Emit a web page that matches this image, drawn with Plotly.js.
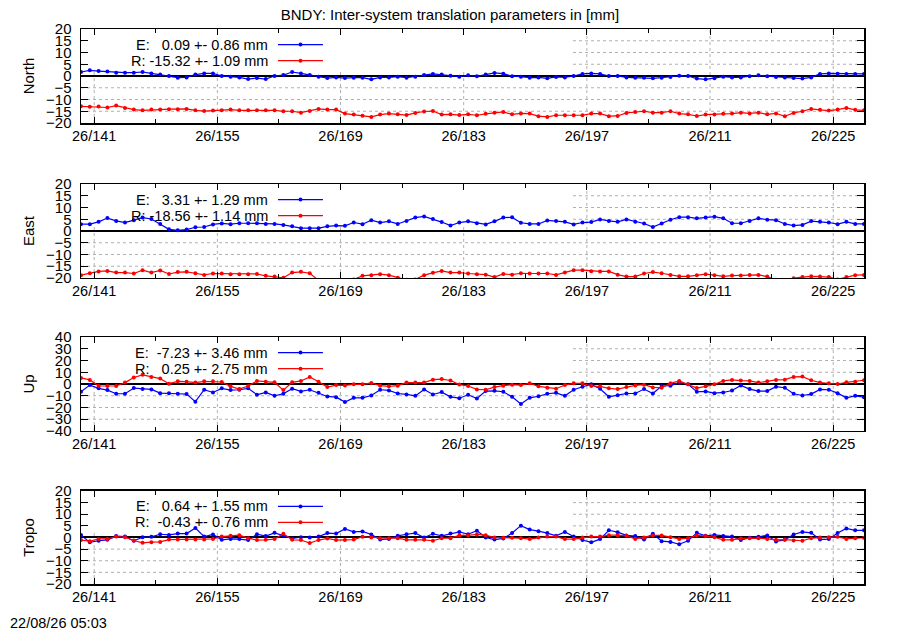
<!DOCTYPE html>
<html><head><meta charset="utf-8">
<script src="https://cdn.plot.ly/plotly-3.0.1.min.js"></script>
<style>html,body{margin:0;padding:0;background:#fff}#chart{width:900px;height:630px}</style>
</head><body><div id="chart"></div>
<script>
// ---- data ----
const firstEpoch = 139.5;          // first daily solution (day of year, noon)
const tickDays = [141, 155, 169, 183, 197, 211, 225];
const tickLabels = ["26/141", "26/155", "26/169", "26/183", "26/197", "26/211", "26/225"];
const panelNames = ["North", "East", "Up", "Tropo"];
const yLimits = [20, 20, 40, 20];
const yTickStep = [5, 5, 10, 5];
const chartTitle = "BNDY: Inter-system translation parameters in [mm]";
const timeStamp = "22/08/26 05:03";

const legendE = ["E:   0.09 +- 0.86 mm", "E:   3.31 +- 1.29 mm", "E:  -7.23 +- 3.46 mm", "E:   0.64 +- 1.55 mm"];
const legendR = ["R: -15.32 +- 1.09 mm", "R: -18.56 +- 1.14 mm", "R:   0.25 +- 2.75 mm", "R:  -0.43 +- 0.76 mm"];

const northE = [1.7,2.4,2.1,1.9,1.4,1.4,1.4,1.7,1.1,0.6,
 0,-0.7,-0.6,0.6,1.1,1.1,0,-0.3,-0.6,-1.3,
 -0.9,-1.3,0,0.4,1.7,1.1,0.4,-0.3,-0.9,-0.6,
 -0.9,-0.7,-0.7,-1.4,-0.6,-0.6,-0.3,-0.7,-0.3,0.4,
 0.9,0.6,0.1,-0.3,0.3,-0.1,0.6,1.3,1.0,-0.1,
 -0.3,-0.7,-0.6,-1.0,-0.4,-0.6,0,0.9,1.1,0.9,
 0,0,-0.6,-0.7,-0.7,-1.0,-0.7,-0.4,0.1,0,
 -1.1,-1.4,-1.0,-0.3,-0.6,-0.6,-0.1,0.3,-0.1,-0.4,
 -0.6,-0.9,-1.1,-0.6,0.9,1.1,1.0,0.9,0.9,0.9];
const northR = [-12.9,-13.1,-13.0,-13.4,-12.6,-13.6,-14.3,-14.6,-14.3,-14.3,
 -14.1,-14.1,-14.0,-14.6,-14.9,-14.7,-14.6,-14.3,-14.6,-14.6,
 -14.6,-14.6,-14.6,-15.0,-15.0,-15.6,-14.9,-14.0,-14.3,-14.3,
 -16.0,-16.4,-16.9,-17.4,-16.4,-16.0,-16.3,-16.6,-15.7,-15.1,
 -14.9,-16.4,-16.3,-16.6,-16.3,-16.7,-16.1,-15.6,-15.3,-16.3,
 -15.9,-16.0,-17.1,-17.4,-16.7,-16.7,-16.7,-16.7,-16.0,-16.0,
 -17.1,-17.0,-15.7,-15.3,-15.0,-15.6,-15.6,-15.0,-16.0,-16.3,
 -17.0,-16.4,-16.4,-16.1,-16.0,-15.6,-15.9,-15.6,-16.3,-15.9,
 -17.1,-15.7,-15.0,-14.0,-14.4,-14.7,-14.3,-13.6,-14.4,-14.6];
const eastE = [2.9,2.9,3.9,5.5,4.3,3.6,4.6,5.7,5.1,3.0,
 0.7,0.3,0.6,1.6,1.7,2.8,3.2,2.9,3.3,3.3,
 3.3,3.0,3.0,2.6,2.0,1.2,1.2,1.2,2.0,2.3,
 2.2,3.6,2.9,4.6,3.6,4.1,3.0,4.3,5.7,6.2,
 5.1,3.8,2.3,3.6,4.1,3.3,2.8,4.1,5.7,5.8,
 3.5,3.0,3.0,4.5,4.2,3.9,2.8,3.6,3.8,4.9,
 4.3,3.9,4.9,3.9,3.2,1.7,3.2,4.8,5.9,5.9,
 5.4,5.7,6.1,5.4,3.3,3.3,4.2,5.4,4.8,4.6,
 3.0,2.3,2.6,4.2,3.9,3.6,2.9,3.9,3.0,3.0];
const eastR = [-18.8,-18.0,-17.2,-17.0,-17.7,-17.7,-18.1,-16.7,-17.7,-16.8,
 -18.3,-17.5,-17.4,-18.0,-18.7,-18.1,-18.1,-18.4,-18.4,-18.4,
 -18.3,-19.1,-19.4,-19.9,-17.7,-17.4,-18.0,-21.0,-21.5,-22.0,
 -21.5,-20.6,-19.1,-18.8,-18.4,-18.8,-19.9,-20.8,-20.6,-18.8,
 -17.8,-17.0,-17.7,-17.7,-18.1,-18.4,-18.6,-19.6,-18.3,-18.6,
 -18.0,-18.1,-18.1,-18.1,-18.7,-17.7,-16.7,-16.7,-17.1,-17.2,
 -17.2,-18.6,-19.4,-19.4,-18.1,-17.5,-18.0,-18.7,-19.3,-19.3,
 -18.8,-18.4,-18.8,-19.3,-19.0,-19.0,-18.7,-18.7,-19.4,-20.8,
 -21.0,-20.1,-19.6,-19.3,-19.4,-19.6,-20.6,-19.6,-18.8,-18.7];
const upE = [-6.6,-0.9,-3.7,-5.2,-8.3,-8.3,-3.5,-4.3,-4.6,-7.8,
 -7.8,-8.3,-8.6,-15.0,-4.9,-7.2,-3.7,-5.2,-4.9,-3.7,
 -9.2,-7.2,-10.1,-8.3,-4.0,-6.3,-4.9,-7.5,-10.6,-11.2,
 -15.3,-11.8,-11.8,-9.8,-4.9,-5.5,-8.1,-8.9,-10.1,-4.6,
 -8.9,-6.9,-10.9,-12.1,-9.2,-12.4,-6.0,-5.8,-6.6,-10.9,
 -17.0,-11.8,-10.4,-8.3,-7.5,-10.1,-4.9,-2.3,-0.3,-4.0,
 -10.9,-9.5,-8.1,-8.1,-4.3,-8.1,-1.7,-1.4,1.2,-0.3,
 -6.6,-6.3,-7.8,-7.2,-5.5,-1.2,-4.3,-6.0,-6.0,-2.3,
 -3.2,-8.3,-9.8,-8.6,-4.6,-4.9,-7.8,-11.8,-10.1,-11.2];
const upR = [5.2,3.5,-1.7,-1.7,-1.7,1.2,5.5,7.8,6.0,4.6,
 0.3,2.3,2.0,1.2,2.3,2.3,1.7,-2.0,-4.3,-1.7,
 2.6,2.0,1.4,-5.2,1.4,2.6,6.0,2.0,-2.6,-0.9,
 -1.2,-0.3,-0.3,0.9,-1.4,-2.0,-1.4,1.2,1.2,1.2,
 3.7,4.2,3.0,-0.5,-1.7,-4.6,-4.9,-2.6,-1.4,-0.6,
 -0.9,0.6,-2.0,-3.2,-4.0,-0.9,0.6,0.6,-1.7,-2.0,
 -3.7,-4.3,-2.6,-1.2,-0.6,-2.9,-3.2,0.6,2.6,-0.3,
 -3.5,-2.0,-0.3,2.6,3.5,2.9,2.6,1.2,2.3,3.5,
 3.7,6.0,6.3,3.2,1.2,0.6,0,1.4,2.0,3.2];
const tropoE = [1.1,-2.1,-1.4,-1.0,0.6,0.4,-1.4,0.1,0.3,1.4,
 1.1,1.7,1.7,4.1,0.4,1.3,-1.0,-0.6,-0.7,-1.1,
 1.4,0.6,2.0,0.9,-0.4,0.1,0,0.4,1.9,1.7,
 3.7,2.4,2.6,1.3,-0.9,-0.6,0.7,1.4,1.9,0,
 1.6,0.7,1.7,2.4,1.4,2.9,0,-0.9,-0.4,1.9,
 5.1,3.4,2.7,1.9,0.7,2.4,0.4,-1.1,-2.1,-0.7,
 3.1,2.3,0.9,0.6,-0.9,1.6,-1.6,-1.9,-2.9,-1.4,
 2.0,0.7,1.1,0.6,0.4,-1.1,-0.1,0.3,0.9,-1.7,
 -1.0,1.3,2.4,2.0,-0.9,-0.7,1.9,3.9,3.1,3.1];
const tropoR = [-1.1,-1.6,-0.6,-0.6,0.4,0.1,-1.3,-2.3,-2.0,-1.9,
 -0.9,-0.9,-0.9,-0.9,-0.9,-0.6,0.4,0.7,1.0,-0.3,
 -1.1,-1.0,-0.7,1.6,-1.0,-1.1,-2.4,-1.1,-0.4,-1.1,
 -1.1,-0.9,0.3,0,-0.3,-0.3,-0.3,-1.0,-1.0,-1.0,
 -1.4,-0.3,-0.3,0.9,0.9,1.3,1.0,0,-0.1,-0.1,
 -0.3,-0.7,0,0.4,0.4,-0.7,-0.7,0,0.4,0.4,
 1.0,1.0,0.7,-0.6,0,0.9,0.9,0.1,-0.6,-0.3,
 0.9,0.6,0.1,-1.0,-1.0,-0.4,-0.3,-0.3,-0.6,-1.0,
 -0.9,-1.3,-1.4,-0.3,0,0.1,0.3,-0.6,-0.3,-0.1];

const seriesE = [northE, eastE, upE, tropoE];
const seriesR = [northR, eastR, upR, tropoR];
const colorE = "#0000ff", colorR = "#ff0000";

// ---- figure ----
const FONT = "Liberation Sans, Arial, Helvetica, sans-serif";
const GRID = "#b0b0b0";
const days = northE.map((_, i) => firstEpoch + i);
const domains = [[0.8306, 1], [0.5514, 0.7207], [0.2757, 0.4450], [0, 0.1676]];

const traces = [];
const layout = {
  width: 900, height: 630,
  margin: {l: 81, r: 36, t: 29, b: 46},
  paper_bgcolor: "#fff", plot_bgcolor: "#fff",
  font: {family: FONT, size: 14.5, color: "#000"},
  showlegend: false,
  title: {text: chartTitle, font: {family: FONT, size: 15, color: "#000"},
          x: 0.5, xanchor: "center", xref: "container", y: 1 - 15/630, yanchor: "middle", yref: "container"},
  shapes: [], annotations: []
};

const legX0 = 0.2516, legX1 = 0.309, legTextX = 0.2414;
const legYE = 0.834, legYR = 0.663;

for (let p = 0; p < 4; p++) {
  const sfx = p === 0 ? "" : String(p + 1);
  const xa = "x" + sfx, ya = "y" + sfx;
  const dom = domains[p];
  [[seriesE[p], colorE], [seriesR[p], colorR]].forEach(([vals, col]) => {
    traces.push({
      type: "scatter", mode: "lines+markers", x: days, y: vals,
      xaxis: xa, yaxis: ya,
      line: {color: col, width: 1.2},
      marker: {color: col, size: 4},
      hoverinfo: "skip"
    });
  });
  const lim = yLimits[p], step = yTickStep[p];
  layout["xaxis" + sfx] = {
    domain: [0, 1], anchor: ya, range: [139.5, 228.5],
    tickmode: "array", tickvals: tickDays, ticktext: tickLabels,
    ticks: "inside", ticklen: 6, tickwidth: 1, tickcolor: "#000",
    minor: {tickmode: "linear", tick0: 141, dtick: 7, ticks: "inside", ticklen: 4, tickcolor: "#000", showgrid: false},
    showline: true, linecolor: "#000", linewidth: 1.5, mirror: "ticks",
    showgrid: false, zeroline: false,
    tickfont: {family: FONT, size: 14.5, color: "#000"},
    ticklabelstandoff: -1, fixedrange: true
  };
  layout["yaxis" + sfx] = {
    domain: dom, anchor: xa, range: [-lim, lim],
    tickmode: "linear", tick0: -lim, dtick: step,
    ticks: "inside", ticklen: 7, tickwidth: 1, tickcolor: "#000",
    showline: true, linecolor: "#000", linewidth: 1.5, mirror: "ticks",
    showgrid: false,
    zeroline: true, zerolinecolor: "#000", zerolinewidth: 2,
    tickfont: {family: FONT, size: 15, color: "#000"},
    ticklabelstandoff: 5,
    title: {text: panelNames[p], font: {family: FONT, size: 15, color: "#000"}, standoff: 8},
    automargin: false, fixedrange: true
  };
  // dotted grid at the major tick positions
  tickDays.forEach(d => layout.shapes.push({type: "line", layer: "below", xref: xa, yref: ya + " domain",
    x0: d, x1: d, y0: 0, y1: 1, line: {color: GRID, width: 1, dash: "dot"}}));
  for (let v = -lim + step; v < lim; v += step) {
    if (v === 0) continue;
    layout.shapes.push({type: "line", layer: "below", xref: xa + " domain", yref: ya,
      x0: 0, x1: 1, y0: v, y1: v, line: {color: GRID, width: 1, dash: "dot"}});
  }
  // opaque key box (hides the grid behind the key)
  layout.shapes.push({type: "rect", layer: "below", xref: xa + " domain", yref: ya + " domain",
    x0: 0.002, x1: 0.628, y0: 0.57, y1: 0.996, fillcolor: "#fff", line: {width: 0}});
  // legend samples
  [[legYE, colorE], [legYR, colorR]].forEach(([yy, col]) => {
    const yPaper = dom[0] + yy * (dom[1] - dom[0]);
    layout.shapes.push({type: "line", xref: "paper", yref: "paper",
      x0: legX0, x1: legX1, y0: yPaper, y1: yPaper, line: {color: col, width: 1.2}});
    layout.shapes.push({type: "circle", xref: "paper", yref: "paper",
      xsizemode: "pixel", ysizemode: "pixel", xanchor: (legX0 + legX1) / 2, yanchor: yPaper,
      x0: -2, x1: 2, y0: -2, y1: 2, fillcolor: col, line: {width: 0}});
  });
  layout.annotations.push({xref: "paper", yref: "paper", x: legTextX, y: dom[0] + legYE * (dom[1] - dom[0]),
    xanchor: "right", yanchor: "middle", showarrow: false,
    text: legendE[p].replace(/ /g, "\u00a0"), font: {family: FONT, size: 14.5, color: "#000"}});
  layout.annotations.push({xref: "paper", yref: "paper", x: legTextX, y: dom[0] + legYR * (dom[1] - dom[0]),
    xanchor: "right", yanchor: "middle", showarrow: false,
    text: legendR[p].replace(/ /g, "\u00a0"), font: {family: FONT, size: 14.5, color: "#000"}});
}

layout.annotations.push({xref: "paper", yref: "paper", x: (8 - 81) / 783, y: (584 - 623) / 555,
  xanchor: "left", yanchor: "middle", showarrow: false, text: timeStamp,
  font: {family: FONT, size: 14.5, color: "#000"}});

Plotly.newPlot("chart", traces, layout, {staticPlot: true, displayModeBar: false});
</script>
</body></html>
